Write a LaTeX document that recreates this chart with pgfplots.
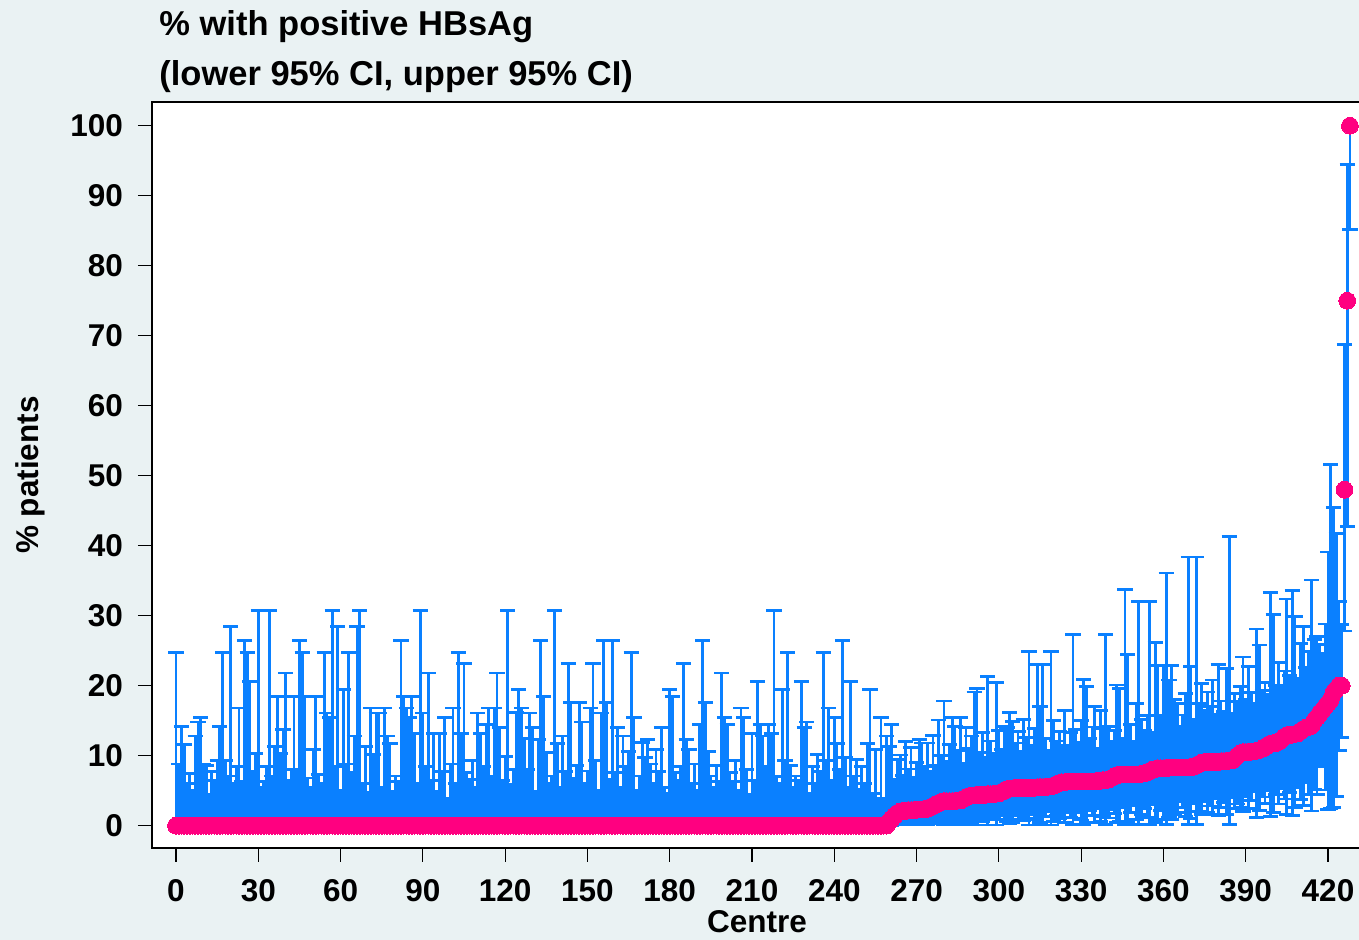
\documentclass[border=0pt]{standalone}
\usepackage{pgfplots}
\pgfplotsset{compat=1.18}
\usepackage{pgfplotstable}
\usepackage{fontspec}
\setmainfont{Liberation Sans}
\definecolor{bgcol}{RGB}{234,242,243}
\definecolor{hbblue}{RGB}{10,128,255}
\definecolor{hbmag}{RGB}{255,0,128}

% zero-prevalence centres: x p lo hi
\pgfplotstableread{
x p lo hi
0 0 0 24.7
1 0 0 8.8
2 0 0 14.2
3 0 0 11.6
4 0 0 6.0
5 0 0 7.4
6 0 0 5.1
7 0 0 12.8
8 0 0 14.8
9 0 0 15.4
10 0 0 8.8
11 0 0 8.6
12 0 0 4.5
13 0 0 7.7
14 0 0 6.5
15 0 0 9.3
16 0 0 14.2
17 0 0 24.7
18 0 0 9.3
19 0 0 7.1
20 0 0 28.5
21 0 0 6.0
22 0 0 8.4
23 0 0 16.8
24 0 0 6.3
25 0 0 26.5
26 0 0 24.7
27 0 0 20.6
28 0 0 7.7
29 0 0 10.3
30 0 0 30.8
31 0 0 5.5
32 0 0 6.3
33 0 0 8.4
34 0 0 30.8
35 0 0 7.1
36 0 0 11.3
37 0 0 18.5
38 0 0 10.3
39 0 0 13.7
40 0 0 21.8
41 0 0 6.5
42 0 0 8.0
43 0 0 18.5
44 0 0 8.0
45 0 0 26.5
46 0 0 24.7
47 0 0 18.5
48 0 0 6.8
49 0 0 5.5
50 0 0 10.9
51 0 0 18.5
52 0 0 7.3
53 0 0 6.0
54 0 0 24.7
55 0 0 16.1
56 0 0 15.4
57 0 0 30.8
58 0 0 8.4
59 0 0 28.5
60 0 0 5.1
61 0 0 19.5
62 0 0 8.8
63 0 0 24.7
64 0 0 7.6
65 0 0 12.8
66 0 0 28.5
67 0 0 30.8
68 0 0 6.0
69 0 0 11.3
70 0 0 4.7
71 0 0 16.8
72 0 0 10.2
73 0 0 16.1
74 0 0 16.1
75 0 0 5.5
76 0 0 16.8
77 0 0 12.8
78 0 0 11.7
79 0 0 4.9
80 0 0 7.1
81 0 0 6.3
82 0 0 26.5
83 0 0 18.5
84 0 0 16.8
85 0 0 15.4
86 0 0 18.5
87 0 0 13.2
88 0 0 6.0
89 0 0 30.8
90 0 0 16.1
91 0 0 8.4
92 0 0 21.8
93 0 0 6.5
94 0 0 13.2
95 0 0 4.9
96 0 0 13.2
97 0 0 7.7
98 0 0 15.4
99 0 0 3.9
100 0 0 8.8
101 0 0 16.8
102 0 0 6.0
103 0 0 24.7
104 0 0 13.2
105 0 0 23.2
106 0 0 7.6
107 0 0 6.6
108 0 0 9.3
109 0 0 5.5
110 0 0 16.1
111 0 0 13.2
112 0 0 8.4
113 0 0 14.4
114 0 0 16.8
115 0 0 7.1
116 0 0 16.8
117 0 0 21.8
118 0 0 14.0
119 0 0 6.5
120 0 0 9.9
121 0 0 30.8
122 0 0 5.9
123 0 0 8.0
124 0 0 16.2
125 0 0 19.5
126 0 0 16.8
127 0 0 12.4
128 0 0 8.0
129 0 0 16.1
130 0 0 14.0
131 0 0 4.9
132 0 0 12.3
133 0 0 26.5
134 0 0 18.5
135 0 0 10.4
136 0 0 6.0
137 0 0 7.1
138 0 0 30.8
139 0 0 11.7
140 0 0 5.5
141 0 0 12.8
142 0 0 7.7
143 0 0 23.2
144 0 0 17.6
145 0 0 6.8
146 0 0 8.6
147 0 0 17.6
148 0 0 14.8
149 0 0 6.0
150 0 0 7.8
151 0 0 16.8
152 0 0 23.2
153 0 0 9.3
154 0 0 5.1
155 0 0 16.1
156 0 0 26.5
157 0 0 17.6
158 0 0 6.6
159 0 0 26.5
160 0 0 7.6
161 0 0 14.0
162 0 0 5.5
163 0 0 12.8
164 0 0 8.4
165 0 0 10.6
166 0 0 24.7
167 0 0 15.4
168 0 0 5.1
169 0 0 7.1
170 0 0 11.9
171 0 0 9.7
172 0 0 12.3
173 0 0 8.8
174 0 0 6.0
175 0 0 10.9
176 0 0 7.7
177 0 0 14.0
178 0 0 5.5
179 0 0 4.6
180 0 0 19.5
181 0 0 18.5
182 0 0 7.6
183 0 0 6.5
184 0 0 8.4
185 0 0 23.2
186 0 0 12.3
187 0 0 10.9
188 0 0 6.0
189 0 0 8.8
190 0 0 5.1
191 0 0 14.4
192 0 0 26.5
193 0 0 17.6
194 0 0 10.6
195 0 0 7.1
196 0 0 5.5
197 0 0 8.6
198 0 0 6.3
199 0 0 21.8
200 0 0 15.4
201 0 0 14.4
202 0 0 7.6
203 0 0 6.3
204 0 0 9.3
205 0 0 5.1
206 0 0 16.8
207 0 0 15.4
208 0 0 8.0
209 0 0 4.4
210 0 0 13.2
211 0 0 6.5
212 0 0 20.6
213 0 0 14.4
214 0 0 12.8
215 0 0 8.4
216 0 0 14.4
217 0 0 13.2
218 0 0 30.8
219 0 0 7.0
220 0 0 6.0
221 0 0 19.5
222 0 0 9.3
223 0 0 24.7
224 0 0 8.6
225 0 0 5.5
226 0 0 7.1
227 0 0 6.5
228 0 0 20.6
229 0 0 14.0
230 0 0 14.8
231 0 0 4.6
232 0 0 8.4
233 0 0 6.0
234 0 0 10.2
235 0 0 7.7
236 0 0 24.7
237 0 0 9.3
238 0 0 16.8
239 0 0 6.5
240 0 0 15.4
241 0 0 11.7
242 0 0 8.0
243 0 0 26.5
244 0 0 9.7
245 0 0 5.5
246 0 0 20.6
247 0 0 7.1
248 0 0 9.5
249 0 0 5.2
250 0 0 8.4
251 0 0 6.0
252 0 0 11.7
253 0 0 19.5
254 0 0 4.6
255 0 0 10.9
256 0 0 3.9
257 0 0 15.4
258 0 0 3.7
259 0 0 12.8
}\zerodata

% centres with positive HBsAg: x p lo hi
\pgfplotstableread{
x p lo hi
260 0.6 0.0 11.3
261 1.0 0.0 14.4
262 1.4 0.2 6.6
263 1.8 0.2 9.5
264 2.0 0.3 10.1
265 2.1 0.3 7.2
266 2.1 0.1 12.0
267 2.2 0.4 8.1
268 2.2 0.3 11.2
269 2.2 0.5 6.9
270 2.3 0.3 9.0
271 2.3 0.1 12.3
272 2.3 0.3 11.8
273 2.4 0.4 8.4
274 2.4 0.2 11.8
275 2.6 0.5 7.8
276 2.8 0.3 12.9
277 3.0 0.6 8.6
278 3.2 0.4 15.1
279 3.4 0.7 10.0
280 3.5 0.1 17.8
281 3.5 0.8 9.2
282 3.5 0.5 11.6
283 3.5 0.1 15.4
284 3.5 0.4 14.2
285 3.6 0.7 10.7
286 3.6 0.1 15.4
287 3.8 0.9 8.9
288 4.0 0.5 14.0
289 4.2 0.8 11.0
290 4.3 0.5 12.8
291 4.3 0.1 19.1
292 4.4 0.1 19.6
293 4.4 1.0 10.5
294 4.4 0.6 13.3
295 4.4 1.2 9.8
296 4.5 0.1 21.3
297 4.5 0.9 12.1
298 4.5 1.3 10.3
299 4.6 0.1 20.4
300 4.6 0.8 13.6
301 4.8 1.4 10.9
302 5.0 0.9 14.2
303 5.2 0.6 14.0
304 5.3 0.3 16.2
305 5.3 0.5 14.9
306 5.4 1.5 11.8
307 5.4 0.9 13.5
308 5.4 1.8 10.6
309 5.4 0.7 15.2
310 5.4 1.1 12.6
311 5.4 0.1 24.9
312 5.4 1.6 11.5
313 5.4 0.9 13.9
314 5.5 0.1 23.0
315 5.5 0.4 17.0
316 5.5 0.1 23.0
317 5.5 1.3 12.4
318 5.6 2.0 10.8
319 5.6 0.1 24.9
320 5.7 0.6 15.0
321 5.9 1.4 12.1
322 6.1 1.0 13.4
323 6.2 1.8 11.4
324 6.2 0.5 16.5
325 6.3 2.2 11.0
326 6.3 1.2 13.3
327 6.3 0.2 27.3
328 6.3 1.1 13.7
329 6.3 1.9 11.9
330 6.3 0.8 15.0
331 6.3 0.1 20.9
332 6.3 0.4 19.9
333 6.3 2.1 12.4
334 6.3 1.5 14.1
335 6.3 0.5 17.0
336 6.4 2.5 11.1
337 6.4 0.6 16.5
338 6.5 1.3 13.8
339 6.5 0.2 27.3
340 6.6 1.1 14.2
341 6.8 2.3 12.0
342 7.0 1.7 13.6
343 7.2 0.5 20.1
344 7.3 0.6 19.6
345 7.3 2.6 12.5
346 7.3 0.2 33.8
347 7.3 0.4 24.5
348 7.3 1.9 14.4
349 7.3 2.9 12.0
350 7.3 0.9 17.5
351 7.3 0.2 32.0
352 7.4 1.6 15.2
353 7.5 2.4 13.6
354 7.6 1.2 15.7
355 7.8 0.2 32.0
356 8.0 3.0 13.3
357 8.1 0.5 26.2
358 8.2 0.9 22.9
359 8.2 2.2 15.8
360 8.2 0.9 22.9
361 8.2 0.2 36.1
362 8.3 1.2 20.8
363 8.3 0.9 22.9
364 8.3 1.6 18.0
365 8.3 1.9 17.5
366 8.3 3.4 14.2
367 8.3 2.6 15.8
368 8.3 1.3 18.9
369 8.3 0.2 38.4
370 8.4 1.0 22.7
371 8.4 3.1 15.2
372 8.6 0.2 38.4
373 8.8 2.0 17.4
374 9.0 1.6 20.3
375 9.1 3.5 16.4
376 9.1 1.9 19.1
377 9.1 2.8 17.0
378 9.1 1.6 20.8
379 9.1 3.8 15.9
380 9.1 1.4 23.0
381 9.2 2.6 17.8
382 9.2 3.3 16.3
383 9.2 1.6 22.4
384 9.3 0.2 41.3
385 9.3 4.0 16.1
386 9.6 2.4 18.9
387 10.0 3.1 17.7
388 10.3 2.6 19.9
389 10.5 2.0 24.1
390 10.5 4.2 18.1
391 10.5 2.4 22.7
392 10.6 3.6 19.0
393 10.6 4.8 17.5
394 10.7 1.2 28.1
395 10.8 2.2 25.8
396 11.0 4.1 19.3
397 11.2 3.2 20.5
398 11.5 5.0 18.7
399 11.7 1.3 33.3
400 11.8 1.9 30.2
401 11.8 4.5 20.0
402 12.0 3.1 23.3
403 12.3 5.3 19.6
404 12.7 3.8 22.1
405 12.9 1.6 32.4
406 13.0 4.7 21.5
407 13.0 1.5 33.6
408 13.1 2.6 29.9
409 13.2 5.5 21.0
410 13.5 3.7 26.0
411 13.8 2.9 28.4
412 14.0 6.1 22.6
413 14.1 4.4 24.9
414 14.3 2.1 35.1
415 15.0 5.2 26.6
416 15.5 4.4 27.0
417 16.0 8.4 25.9
418 16.5 8.8 24.6
419 17.0 5.1 28.8
420 17.5 2.3 39.1
421 18.0 2.5 51.6
422 19.0 2.6 45.5
423 19.5 4.2 41.8
424 20.0 10.7 32.0
425 20.0 12.6 28.7
426 48.0 27.8 68.7
427 75.0 42.8 94.5
428 100.0 85.2 100.0
}\posdata

\begin{document}
\begin{tikzpicture}
\fill[bgcol] (0,0) rectangle (679.5pt,470pt);
\begin{axis}[
  at={(76pt,46pt)}, anchor=south west,
  scale only axis, width=605pt, height=373pt,
  xmin=-8.75, xmax=432.4, ymin=-3.19, ymax=103.4,
  axis background/.style={fill=white},
  axis line style={black, line width=1pt},
  xtick={0,30,...,420}, ytick={0,10,...,100},
  tick align=outside, xtick pos=left, ytick pos=left,
  major tick length=7pt, tick style={black, line width=0.6pt},
  /pgf/number format/assume math mode=true,
  ticklabel style={font=\fontsize{15.75}{18}\selectfont\bfseries},
  xticklabel style={yshift=-5pt},
  yticklabel style={xshift=-4pt},
  xlabel={Centre}, ylabel={\% patients},
  label style={font=\fontsize{15.75}{18}\selectfont\bfseries},
  xlabel style={at={(axis description cs:0.5,0)}, anchor=base, yshift=-42.5pt},
  ylabel style={at={(axis description cs:-0.1008,0.5)}, anchor=center},
  error bars/error bar style={line width=1.4pt, draw=hbblue},
  error bars/error mark options={rotate=90, line width=1.4pt, mark size=3.8pt, draw=hbblue},
]
\addplot[only marks, mark=none, hbblue,
  error bars/.cd, y dir=both, y explicit]
  table[x=x, y=p, y error plus expr=\thisrow{hi}-\thisrow{p}, y error minus expr=\thisrow{p}-\thisrow{lo}] {\zerodata};
\addplot[only marks, mark=none, hbblue,
  error bars/.cd, y dir=both, y explicit]
  table[x=x, y=p, y error plus expr=\thisrow{hi}-\thisrow{p}, y error minus expr=\thisrow{p}-\thisrow{lo}] {\posdata};
\addplot[hbmag, only marks, mark=*, mark size=4.2pt, mark options={draw=hbmag, fill=hbmag, line width=0pt}]
  table[x=x, y=p] {\zerodata};
\addplot[hbmag, only marks, mark=*, mark size=4.2pt, mark options={draw=hbmag, fill=hbmag, line width=0pt}]
  table[x=x, y=p] {\posdata};
\end{axis}
\node[anchor=base west, inner sep=0pt, font=\fontsize{17.25}{20}\selectfont\bfseries] at (79.5pt,452pt) {\% with positive HBsAg};
\node[anchor=base west, inner sep=0pt, font=\fontsize{17.25}{20}\selectfont\bfseries] at (79.5pt,427pt) {(lower 95\% CI, upper 95\% CI)};
\pgfresetboundingbox
\useasboundingbox (0,0) rectangle (679.5pt,470pt);
\end{tikzpicture}
\end{document}
